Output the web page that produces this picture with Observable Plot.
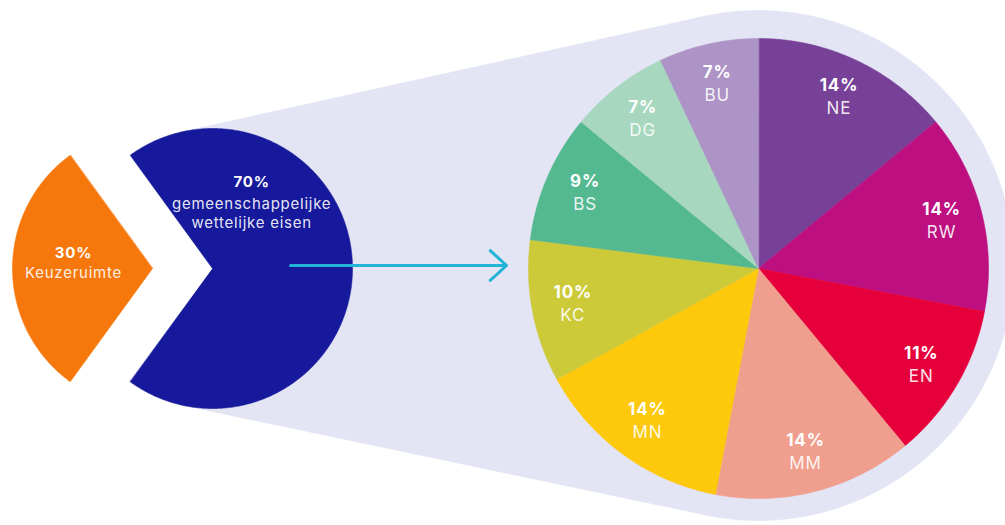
<!DOCTYPE html>
<html><head><meta charset="utf-8">
<script src="https://cdn.jsdelivr.net/npm/d3@7"></script>
<script src="https://cdn.jsdelivr.net/npm/@observablehq/plot@0.6"></script>
<style>body{margin:0;background:#fff} svg{display:block} svg text{letter-spacing:0.05em}</style>
</head><body><div id="chart"></div>
<script>
// ---- data ----
const mainCategories = ["gemeenschappelijke wettelijke eisen", "Keuzeruimte"];
const mainValues = [70, 30];
const mainColors = ["#16199b", "#f6780d"];

const subCategories = ["NE", "RW", "EN", "MM", "MN", "KC", "BS", "DG", "BU"];
const subValues = [14, 14, 11, 14, 14, 10, 9, 7, 7];
const subColors = ["#774197", "#bd0f80", "#e5003b", "#f09e8d", "#fec80b", "#cdca3a", "#54b891", "#a8d7bf", "#ad93c6"];

// ---- layout ----
const W = 1005, H = 525;
const FONT = "Inter, 'Open Sans', sans-serif";
const leftPie = {cx: 212, cy: 268, r: 140, explode: 60};
const rightPie = {cx: 758, cy: 268, r: 230, labelR: 189};
const halo = {cx: 758, cy: 265, r: 255};
const haloColor = "#e3e4f4";
const arrowColor = "#22b4d6";

const rad = a => a * Math.PI / 180;
function pt(cx, cy, r, a) { return [cx + r * Math.sin(rad(a)), cy - r * Math.cos(rad(a))]; }
function wedge(id, color, cx, cy, r, a0, a1) {
  const rows = [{id, color, x: cx, y: cy}];
  const n = Math.max(2, Math.ceil((a1 - a0) / 0.5));
  for (let i = 0; i <= n; i++) {
    const [x, y] = pt(cx, cy, r, a0 + (a1 - a0) * i / n);
    rows.push({id, color, x, y});
  }
  return rows;
}
function circle(id, color, cx, cy, r) {
  const rows = [];
  for (let a = 0; a <= 360; a += 0.5) { const [x, y] = pt(cx, cy, r, a); rows.push({id, color, x, y}); }
  return rows;
}

// main pie angles (degrees clockwise from top), first slice centred on the right
const mainTotal = d3.sum(mainValues);
const blueSpan = mainValues[0] / mainTotal * 360;
const mainSlices = [];
{
  let a = 90 - blueSpan / 2;
  mainValues.forEach((v, i) => {
    const span = v / mainTotal * 360;
    mainSlices.push({i, a0: a, a1: a + span, mid: a + span / 2});
    a += span;
  });
}
// sub pie angles
const subTotal = d3.sum(subValues);
const subSlices = [];
{
  let a = 0;
  subValues.forEach((v, i) => {
    const span = v / subTotal * 360;
    subSlices.push({i, a0: a, a1: a + span, mid: a + span / 2, v, cat: subCategories[i]});
    a += span;
  });
}

// funnel (external tangents between left pie and halo)
const dx = halo.cx - leftPie.cx, dy = halo.cy - leftPie.cy;
const dist = Math.hypot(dx, dy);
const base = Math.atan2(dy, dx);
const alpha = Math.acos((leftPie.r - halo.r) / dist);
const tp = (c, r, ang) => ({x: c.cx + r * Math.cos(ang), y: c.cy + r * Math.sin(ang)});
const funnel = [
  tp(leftPie, leftPie.r, base - alpha),
  tp(halo, halo.r, base - alpha),
  tp(halo, halo.r, base + alpha),
  tp(leftPie, leftPie.r, base + alpha),
  {x: leftPie.cx, y: leftPie.cy}
].map(p => ({id: "funnel", color: haloColor, ...p}));

// polygons
let polys = [];
polys = polys.concat(circle("halo", haloColor, halo.cx, halo.cy, halo.r));
polys = polys.concat(funnel);
mainSlices.forEach(s => {
  const off = s.i === 0 ? 0 : leftPie.explode;
  const [ox, oy] = pt(leftPie.cx, leftPie.cy, off, s.mid);
  polys = polys.concat(wedge("m" + s.i, mainColors[s.i], ox, oy, leftPie.r, s.a0, s.a1));
});
subSlices.forEach(s => {
  polys = polys.concat(wedge("s" + s.i, subColors[s.i], rightPie.cx, rightPie.cy, rightPie.r, s.a0, s.a1));
});

// labels
const subLabels = subSlices.map(s => {
  const [x, y] = pt(rightPie.cx, rightPie.cy, rightPie.labelR, s.mid);
  return {x, y, pct: s.v + "%", cat: s.cat};
});
const [bx, by] = pt(leftPie.cx, leftPie.cy, 76, 31);
const blueLabel = [{x: bx, y: by}];
const om = mainSlices[1];
const [oax, oay] = pt(leftPie.cx, leftPie.cy, leftPie.explode, om.mid);
const [olx, oly] = pt(oax, oay, 79, om.mid);
const orangeLabel = [{x: olx, y: oly}];

const arrowData = [{x1: leftPie.cx + 78, x2: rightPie.cx - rightPie.r - 22, y: leftPie.cy - 3}];

const chart = Plot.plot({
  width: W, height: H,
  margin: 0,
  x: {domain: [0, W], range: [0, W], axis: null},
  y: {domain: [0, H], range: [0, H], axis: null},
  color: {type: "identity"},
  style: {background: "#ffffff", fontFamily: FONT},
  marks: [
    Plot.line(polys, {x: "x", y: "y", z: "id", fill: "color", stroke: "color", strokeWidth: 0.6, curve: "linear-closed"}),
    Plot.arrow(arrowData, {x1: "x1", y1: "y", x2: "x2", y2: "y", stroke: arrowColor, strokeWidth: 3, headLength: 11, headAngle: 85, bend: 0}),
    Plot.text(subLabels, {x: "x", y: "y", text: "pct", dy: -11.5, fill: "white", fontSize: 17, fontWeight: 700, fontFamily: FONT}),
    Plot.text(subLabels, {x: "x", y: "y", text: "cat", dy: 11.5, fill: "white", fillOpacity: 0.9, fontSize: 17, fontWeight: 400, fontFamily: FONT}),
    Plot.text(blueLabel, {x: "x", y: "y", text: () => mainValues[0] + "%", dy: -21, fill: "white", fontSize: 15, fontWeight: 700, fontFamily: FONT}),
    Plot.text(blueLabel, {x: "x", y: "y", text: () => "gemeenschappelijke", dy: 1, fill: "white", fillOpacity: 0.9, fontSize: 15, fontFamily: FONT}),
    Plot.text(blueLabel, {x: "x", y: "y", text: () => "wettelijke eisen", dy: 20, fill: "white", fillOpacity: 0.9, fontSize: 15, fontFamily: FONT}),
    Plot.text(orangeLabel, {x: "x", y: "y", text: () => mainValues[1] + "%", dy: -15, fill: "white", fontSize: 15, fontWeight: 700, fontFamily: FONT}),
    Plot.text(orangeLabel, {x: "x", y: "y", text: () => mainCategories[1], dy: 5, fill: "white", fillOpacity: 0.9, fontSize: 15, fontFamily: FONT})
  ]
});
document.getElementById("chart").append(chart);
</script>
</body></html>
